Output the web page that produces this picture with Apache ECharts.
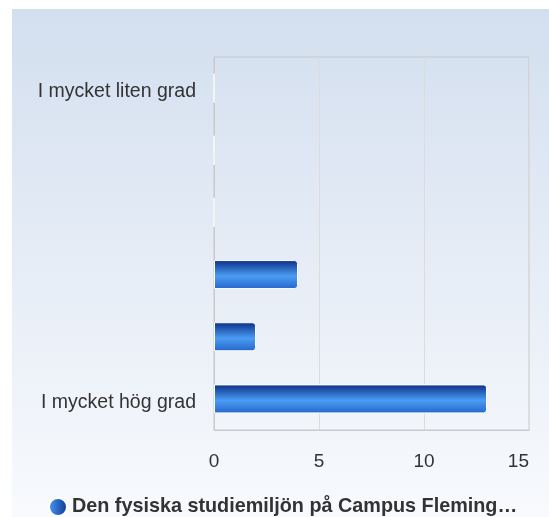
<!DOCTYPE html>
<html>
<head>
<meta charset="utf-8">
<script src="https://cdn.jsdelivr.net/npm/echarts@6/dist/echarts.min.js"></script>
<style>
html,body{margin:0;padding:0;background:#fff;}
#chart{width:549px;height:517px;}
</style>
</head>
<body>
<div id="chart"></div>
<script>
const categories = ["I mycket liten grad", "", "", "", "", "I mycket hög grad"];
const values = [0, 0, 0, 4, 2, 13];
const xTicks = [0, 5, 10, 15];
const seriesName = "Den fysiska studiemiljön på Campus Fleming…";

const chart = echarts.init(document.getElementById("chart"));

const barGradient = new echarts.graphic.LinearGradient(0, 0, 0, 1, [
    { offset: 0, color: "#0a2d86" },
    { offset: 0.55, color: "#4b9cf4" },
    { offset: 1, color: "#2466cc" }
]);
// legend bullet is shaded left to right
const legendGradient = new echarts.graphic.LinearGradient(0, 0, 1, 0, [
    { offset: 0, color: "#4a9cf5" },
    { offset: 1, color: "#0c3590" }
]);

const option = {
    animation: false,
    graphic: [
        {
            type: "rect",
            z: -10,
            shape: { x: 12, y: 9, width: 537, height: 508 },
            style: {
                fill: new echarts.graphic.LinearGradient(0, 0, 0, 1, [
                    { offset: 0, color: "#d3dfef" },
                    { offset: 1, color: "#f8fafd" }
                ])
            },
            silent: true
        }
    ],
    grid: {
        left: 214,
        top: 57,
        width: 315,
        height: 373,
        show: true,
        borderColor: "#c9c9c9",
        borderWidth: 1,
        containLabel: false
    },
    xAxis: {
        type: "value",
        min: xTicks[0],
        max: xTicks[xTicks.length - 1],
        interval: 5,
        axisLine: { show: true, lineStyle: { color: "#c9c9c9" } },
        axisTick: { show: false },
        splitLine: { show: true, lineStyle: { color: "#dcdcdc" } },
        axisLabel: {
            color: "#333",
            fontSize: 19,
            fontFamily: "Arial, Liberation Sans, sans-serif",
            margin: 22,
            alignMaxLabel: "right"
        }
    },
    yAxis: {
        type: "category",
        inverse: true,
        data: categories,
        axisLine: { show: true, lineStyle: { color: "#c9c9c9" } },
        axisTick: { show: false },
        axisLabel: {
            margin: 18,
            formatter: "{a|{value}}",
            rich: {
                a: {
                    color: "#333",
                    fontSize: 19.5,
                    fontFamily: "Arial, Liberation Sans, sans-serif",
                    padding: [7, 0, 0, 0]
                }
            }
        }
    },
    legend: {
        top: 492,
        left: 43,
        data: [{ name: seriesName, icon: "circle", itemStyle: { color: legendGradient } }],
        itemWidth: 18,
        itemHeight: 18,
        textStyle: {
            color: "#333",
            fontSize: 19.8,
            fontWeight: "bold",
            fontFamily: "Arial, Liberation Sans, sans-serif"
        }
    },
    series: [
        {
            name: seriesName,
            type: "bar",
            data: values,
            barWidth: 29,
            itemStyle: {
                color: barGradient,
                borderColor: "#ffffff",
                borderWidth: 1,
                borderRadius: [0, 3, 3, 0]
            }
        }
    ]
};

chart.setOption(option);
</script>
</body>
</html>
